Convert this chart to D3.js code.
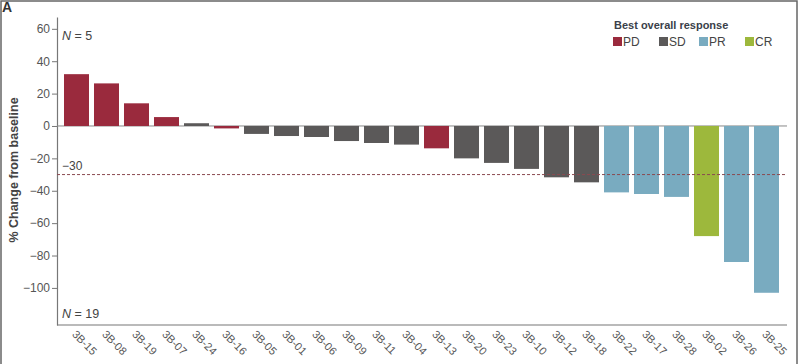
<!DOCTYPE html>
<html><head><meta charset="utf-8">
<script src="https://cdn.jsdelivr.net/npm/d3@7"></script>
<style>body{margin:0;background:#fff}svg{display:block;font-family:"Liberation Sans",Arial,sans-serif}</style>
</head><body><svg id="c" width="800" height="364"></svg>
<script>
const patients = ["3B-15","3B-08","3B-19","3B-07","3B-24","3B-16","3B-05","3B-01","3B-06","3B-09","3B-11","3B-04","3B-13","3B-20","3B-23","3B-10","3B-12","3B-18","3B-22","3B-17","3B-28","3B-02","3B-26","3B-25"];
const changes = [32, 26.3, 14, 5.5, 1.7, -1.5, -4.9, -6.2, -6.8, -9.3, -10.5, -11.5, -13.8, -20, -22.8, -26.5, -31.7, -34.8, -41, -42, -43.8, -68, -84, -103];
const responses = ["PD","PD","PD","PD","SD","PD","SD","SD","SD","SD","SD","SD","PD","SD","SD","SD","SD","SD","PR","PR","PR","CR","PR","PR"];
const responseTypes = ["PD","SD","PR","CR"];
const responseColors = ["#9a2a3d","#5b5959","#79abc0","#9db83c"];
const yTicks = [60,40,20,0,-20,-40,-60,-80,-100];
const threshold = -30;

const svg = d3.select("#c");
const color = d3.scaleOrdinal().domain(responseTypes).range(responseColors);
const y = d3.scaleLinear().domain([-122.9, 67.3]).range([325, 17]);
const x = d3.scaleBand().domain(patients).range([61.5, 781.5]).paddingInner(1/6).paddingOuter(1/12);

// frame
svg.append("rect").attr("x",1).attr("y",1).attr("width",796).attr("height",380)
  .attr("fill","none").attr("stroke","#666").attr("stroke-width",1.5);
svg.append("text").attr("x",2).attr("y",12).attr("font-size",14).attr("font-weight","bold").attr("fill","#333").text("A");

// y axis
const ya = svg.append("g").attr("transform","translate(57,0)")
  .call(d3.axisLeft(y).tickValues(yTicks).tickSize(5).tickSizeOuter(0).tickFormat(d => d < 0 ? "\u2212" + Math.abs(d) : d));
ya.select(".domain").attr("stroke","#777").attr("stroke-width",1.2);
ya.selectAll(".tick line").attr("stroke","#777");
ya.selectAll(".tick text").attr("font-size",12).attr("fill","#555").attr("x",-7).attr("font-family","Liberation Sans, Arial, sans-serif");

// x axis
const xa = svg.append("g").attr("transform","translate(0,325)")
  .call(d3.axisBottom(x).tickSize(0).tickPadding(0));
xa.select(".domain").attr("d","M57,0H787").attr("stroke","#777").attr("stroke-width",1.2);
xa.selectAll(".tick text").attr("font-size",11).attr("fill","#555").attr("font-family","Liberation Sans, Arial, sans-serif")
  .attr("text-anchor","start").attr("dy",0)
  .attr("transform","translate(-5,10) rotate(45)");

// zero line
svg.append("line").attr("x1",57).attr("x2",787).attr("y1",y(0)).attr("y2",y(0)).attr("stroke","#888").attr("stroke-width",1);

// bars
svg.append("g").selectAll("rect").data(patients).join("rect")
  .attr("x", d => x(d)).attr("width", x.bandwidth())
  .attr("y", (d,i) => y(Math.max(0, changes[i])))
  .attr("height", (d,i) => Math.abs(y(changes[i]) - y(0)))
  .attr("fill", (d,i) => color(responses[i]));

// threshold line
svg.append("line").attr("x1",57).attr("x2",787).attr("y1",y(threshold)).attr("y2",y(threshold))
  .attr("stroke","#8a4a50").attr("stroke-width",1).attr("stroke-dasharray","3,2");
svg.append("text").attr("x",62).attr("y",y(threshold)-5).attr("font-size",12).attr("fill","#444").text("\u221230");

// N labels
const n1 = svg.append("text").attr("x",62).attr("y",40).attr("font-size",12.5).attr("fill","#444");
n1.append("tspan").attr("font-style","italic").text("N");
n1.append("tspan").text(" = 5");
const n2 = svg.append("text").attr("x",62).attr("y",318).attr("font-size",12.5).attr("fill","#444");
n2.append("tspan").attr("font-style","italic").text("N");
n2.append("tspan").text(" = 19");

// y label
svg.append("text").attr("transform","translate(18,170) rotate(-90)").attr("text-anchor","middle")
  .attr("font-size",12.5).attr("font-weight","bold").attr("fill","#444").text("% Change from baseline");

// legend
svg.append("text").attr("x",614).attr("y",29).attr("font-size",11).attr("font-weight","bold").attr("fill","#3a3f4a").text("Best overall response");
const legX = [613, 659, 699, 745];
const lg = svg.append("g").selectAll("g").data(responseTypes).join("g")
  .attr("transform",(d,i)=>`translate(${legX[i]},37)`);
lg.append("rect").attr("width",9).attr("height",9).attr("fill",d=>color(d));
lg.append("text").attr("x",10).attr("y",9).attr("font-size",12).attr("fill","#444").text(d=>d);
</script></body></html>
